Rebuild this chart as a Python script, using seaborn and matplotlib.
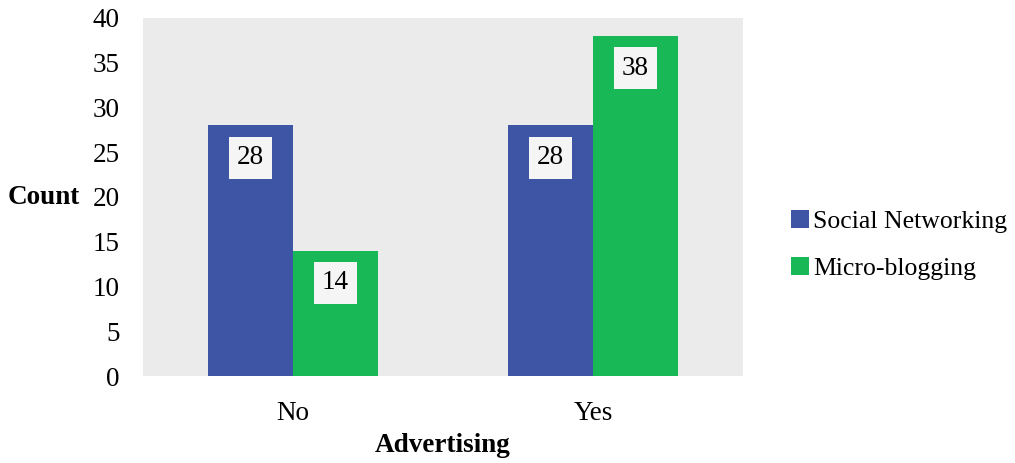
import matplotlib
matplotlib.use("Agg")
import matplotlib.pyplot as plt
import seaborn as sns
import pandas as pd
from matplotlib.patches import Patch

categories = ["No", "Yes"]
series_names = ["Social Networking", "Micro-blogging"]
social = [28, 28]
micro = [14, 38]
yticks = [0, 5, 10, 15, 20, 25, 30, 35, 40]
colors = ["#3D55A4", "#19B857"]

df = pd.DataFrame({
    "Advertising": categories * 2,
    "Type": [series_names[0]] * 2 + [series_names[1]] * 2,
    "Count": social + micro,
})

sns.set_theme(style="white")
plt.rcParams["font.family"] = ["Liberation Serif", "DejaVu Serif"]
plt.rcParams["text.color"] = "black"
plt.rcParams["xtick.color"] = "black"
plt.rcParams["ytick.color"] = "black"
plt.rcParams["axes.labelcolor"] = "black"

fig = plt.figure(figsize=(10.15, 4.63), dpi=100)
ax = fig.add_axes([143 / 1015, 1 - 376 / 463, 600 / 1015, 358 / 463])
ax.set_facecolor("#EBEBEB")

sns.barplot(data=df, x="Advertising", y="Count", hue="Type", palette=colors,
            saturation=1, width=0.567, gap=0, ax=ax, legend=False,
            edgecolor="none")

ax.set_xlim(-0.5, 1.5)
ax.set_ylim(0, 40)
ax.set_yticks(yticks)
ax.tick_params(axis="y", labelsize=19.5, pad=17, length=0)
ax.tick_params(axis="x", labelsize=19.5, pad=18, length=0)
for s in ax.spines.values():
    s.set_visible(False)

for container in ax.containers:
    for bar in container:
        h = bar.get_height()
        ax.text(bar.get_x() + bar.get_width() / 2, h - 3.6, f"{int(h)}",
                ha="center", va="center", fontsize=19.5, color="black",
                bbox=dict(facecolor="#F5F5F5", edgecolor="none", pad=6))

ax.set_xlabel("Advertising", fontsize=19.5, fontweight="bold", labelpad=5)
ax.set_ylabel("Count", fontsize=19.5, fontweight="bold", rotation=0,
              ha="right", va="center")
ax.yaxis.set_label_coords(-0.105, 0.5)

handles = [Patch(facecolor=c, edgecolor="none") for c in colors]
leg = fig.legend(handles, series_names, loc="center left",
                 bbox_to_anchor=(791 / 1015, 1 - 245 / 463), frameon=False,
                 fontsize=18.5, handlelength=0.7, handleheight=0.7,
                 handletextpad=0.15, labelspacing=0.95, borderpad=0,
                 borderaxespad=0)

fig.savefig("out.png", dpi=100)
